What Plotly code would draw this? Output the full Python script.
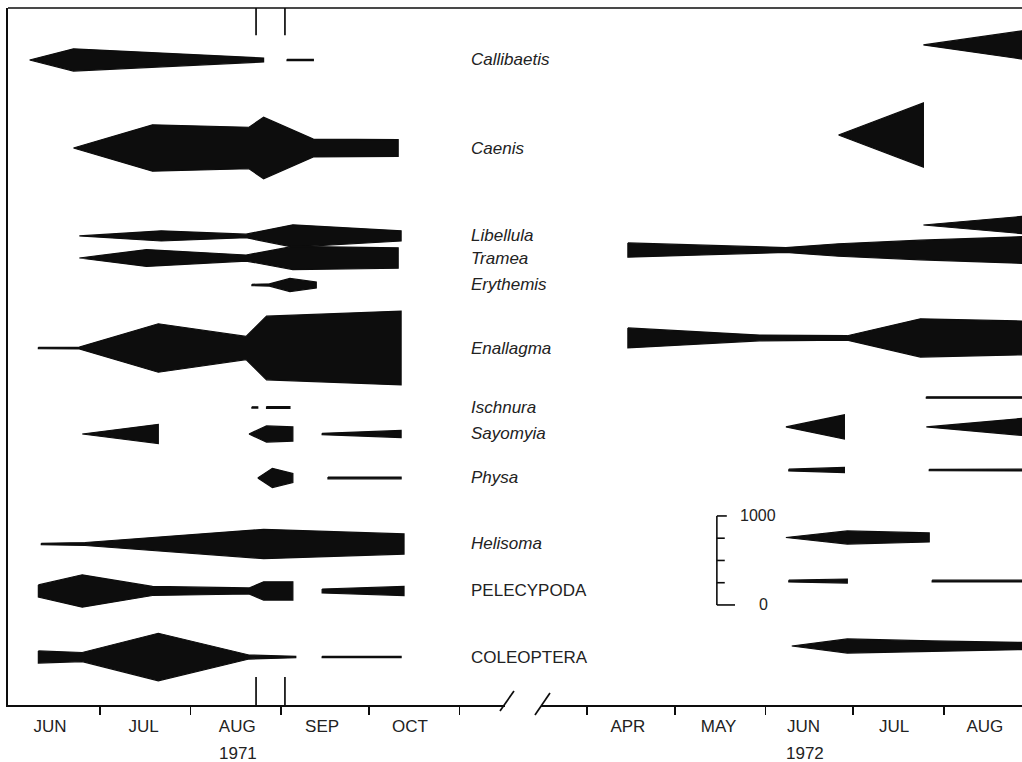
import plotly.graph_objects as go
import pandas as pd

# ---------------- data (kite widths = abundance; None separates segments) ----------------
TAXA = ["Callibaetis", "Caenis", "Libellula", "Tramea", "Erythemis", "Enallagma",
        "Ischnura", "Sayomyia", "Physa", "Helisoma", "PELECYPODA", "COLEOPTERA"]
ITALIC = [True, True, True, True, True, True, True, True, True, True, False, False]

CALLIBAETIS_DATES = ["1971-06-07", "1971-06-22", "1971-08-26", None,
                     "1971-09-03", "1971-09-12", None,
                     "1972-07-25", "1972-08-28"]
CALLIBAETIS_VALUES = [0, 250, 45, None, 15, 15, None, 0, 320]

CAENIS_DATES = ["1971-06-22", "1971-07-19", "1971-08-21", "1971-08-26", "1971-09-12", "1971-10-11", None,
                "1972-06-26", "1972-07-25"]
CAENIS_VALUES = [0, 520, 466, 690, 200, 190, None, 0, 720]

LIBELLULA_DATES = ["1971-06-24", "1971-07-22", "1971-08-20", "1971-09-05", "1971-10-12", None,
                   "1972-07-25", "1972-08-28"]
LIBELLULA_VALUES = [0, 114, 40, 250, 114, None, 0, 195]

TRAMEA_DATES = ["1971-06-24", "1971-07-17", "1971-08-20", "1971-09-05", "1971-10-11", None,
                "1972-04-15", "1972-06-08", "1972-06-26", "1972-07-24", "1972-08-28"]
TRAMEA_VALUES = [0, 190, 68, 260, 230, None, 160, 55, 140, 220, 300]

ERYTHEMIS_DATES = ["1971-08-22", "1971-08-28", "1971-09-04", "1971-09-13"]
ERYTHEMIS_VALUES = [15, 25, 148, 68]

ENALLAGMA_DATES = ["1971-06-10", "1971-06-24", "1971-07-21", "1971-08-20", "1971-08-27", "1971-10-12", None,
                   "1972-04-15", "1972-05-30", "1972-06-29", "1972-07-24", "1972-08-28"]
ENALLAGMA_VALUES = [15, 20, 545, 260, 716, 830, None, 225, 65, 50, 430, 380]

ISCHNURA_DATES = ["1971-08-22", "1971-08-24", None, "1971-08-27", "1971-09-04", None,
                  "1972-07-26", "1972-08-28"]
ISCHNURA_VALUES = [15, 15, None, 20, 20, None, 15, 15]

SAYOMYIA_DATES = ["1971-06-25", "1971-07-21", None,
                  "1971-08-21", "1971-08-27", "1971-09-05", None,
                  "1971-09-15", "1971-10-12", None,
                  "1972-06-08", "1972-06-28", None,
                  "1972-07-26", "1972-08-28"]
SAYOMYIA_VALUES = [0, 216, None, 0, 182, 159, None, 15, 80, None, 0, 273, None, 0, 193]

PHYSA_DATES = ["1971-08-24", "1971-08-29", "1971-09-05", None,
               "1971-09-17", "1971-10-12", None,
               "1972-06-09", "1972-06-28", None,
               "1972-07-27", "1972-08-28"]
PHYSA_VALUES = [0, 216, 102, None, 20, 20, None, 20, 57, None, 15, 20]

HELISOMA_DATES = ["1971-06-11", "1971-06-26", "1971-08-26", "1971-10-13", None,
                  "1972-06-08", "1972-06-29", "1972-07-27"]
HELISOMA_VALUES = [15, 34, 330, 227, None, 0, 148, 102]

PELECYPODA_DATES = ["1971-06-10", "1971-06-25", "1971-07-19", "1971-08-21", "1971-08-26", "1971-09-05", None,
                    "1971-09-15", "1971-10-13", None,
                    "1972-06-09", "1972-06-29", None,
                    "1972-07-28", "1972-08-28"]
PELECYPODA_VALUES = [136, 364, 102, 68, 205, 205, None, 45, 102, None, 20, 45, None, 20, 20]

COLEOPTERA_DATES = ["1971-06-10", "1971-06-25", "1971-07-21", "1971-08-21", "1971-09-06", None,
                    "1971-09-15", "1971-10-12", None,
                    "1972-06-10", "1972-06-29", "1972-07-28", "1972-08-28"]
COLEOPTERA_VALUES = [136, 102, 534, 45, 15, None, 15, 15, None, 0, 159, 114, 80]

SERIES_DATES = [CALLIBAETIS_DATES, CAENIS_DATES, LIBELLULA_DATES, TRAMEA_DATES, ERYTHEMIS_DATES,
                ENALLAGMA_DATES, ISCHNURA_DATES, SAYOMYIA_DATES, PHYSA_DATES, HELISOMA_DATES,
                PELECYPODA_DATES, COLEOPTERA_DATES]
SERIES_VALUES = [CALLIBAETIS_VALUES, CAENIS_VALUES, LIBELLULA_VALUES, TRAMEA_VALUES, ERYTHEMIS_VALUES,
                 ENALLAGMA_VALUES, ISCHNURA_VALUES, SAYOMYIA_VALUES, PHYSA_VALUES, HELISOMA_VALUES,
                 PELECYPODA_VALUES, COLEOPTERA_VALUES]

MONTHS_1971 = ["JUN", "JUL", "AUG", "SEP", "OCT"]
MONTH_LABEL_1971 = ["1971-06-14", "1971-07-16", "1971-08-17", "1971-09-15", "1971-10-15"]
MONTH_START_1971 = ["1971-07-01", "1971-08-01", "1971-09-01", "1971-10-01", "1971-11-01"]
MONTHS_1972 = ["APR", "MAY", "JUN", "JUL", "AUG"]
MONTH_LABEL_1972 = ["1972-04-15", "1972-05-16", "1972-06-14", "1972-07-15", "1972-08-15"]
MONTH_START_1972 = ["1972-04-01", "1972-05-01", "1972-06-01", "1972-07-01", "1972-08-01"]

SCALE_TICKS = [0, 250, 500, 750, 1000]
MARKER_DATES = ["1971-08-23 10:00", "1971-09-02 07:00"]

# ---------------- layout constants ----------------
ROW_BASE_1971 = [7247, 6258, 5270, 5022, 4719, 4011, 3343, 3045, 2551, 1809, 1281, 539]
ROW_BASE_1972 = [7416, 6404, 5393, 5112, 4719, 4124, 3455, 3124, 2640, 1882, 1393, 663]
Y_RANGE = [0, 7831]
X1_RANGE = ["1971-05-30 15:00", "1971-11-16 12:00"]
X2_RANGE = ["1972-03-16 07:00", "1972-08-27 17:00"]
X1_DOMAIN = [0, 0.4901]
X2_DOMAIN = [0.5256, 1]
SCALE_DATE = "1972-05-15 10:00"
SCALE_BASE = 1124
SCALE_TICK_DAYS = [6.2, 2.7, 2.7, 2.7, 3.4]
LABEL_DATE = "1971-11-04 05:00"

INK = "#0d0d0d"
TEXT = "#222222"
FONT = "Liberation Sans, Arial, Helvetica, sans-serif"

fig = go.Figure()

for i, name in enumerate(TAXA):
    segs, cur = [], []
    for d, v in zip(SERIES_DATES[i], SERIES_VALUES[i]):
        if d is None:
            if cur:
                segs.append(cur)
            cur = []
        else:
            cur.append((d, v))
    if cur:
        segs.append(cur)
    for year, axis, bases in (("1971", "x", ROW_BASE_1971), ("1972", "x2", ROW_BASE_1972)):
        xs, ys = [], []
        b = bases[i]
        for seg in segs:
            if not seg[0][0].startswith(year):
                continue
            ds = [d for d, _ in seg]
            vs = [v for _, v in seg]
            xs += ds + ds[::-1] + [ds[0], None]
            ys += [b + v / 2 for v in vs] + [b - v / 2 for v in vs[::-1]] + [b + vs[0] / 2, None]
        if xs:
            fig.add_trace(go.Scatter(
                x=xs, y=ys, xaxis=axis, yaxis="y", mode="lines",
                fill="toself", fillcolor=INK,
                line=dict(color=INK, width=1.2),
                hoverinfo="skip", showlegend=False, name=name))

# scale bar (0 - 1000)
sx, sy = [SCALE_DATE, SCALE_DATE, None], [SCALE_BASE, SCALE_BASE + SCALE_TICKS[-1], None]
d0 = pd.Timestamp(SCALE_DATE)
for t, ln in zip(SCALE_TICKS, SCALE_TICK_DAYS):
    sx += [SCALE_DATE, (d0 + pd.Timedelta(days=ln)).strftime("%Y-%m-%d %H:%M"), None]
    sy += [SCALE_BASE + t, SCALE_BASE + t, None]
fig.add_trace(go.Scatter(x=sx, y=sy, xaxis="x2", yaxis="y", mode="lines",
                         line=dict(color=INK, width=1.6), hoverinfo="skip", showlegend=False))

annotations = []
for i, name in enumerate(TAXA):
    txt = f"<i>{name}</i>" if ITALIC[i] else name
    annotations.append(dict(x=LABEL_DATE, y=ROW_BASE_1971[i], xref="x", yref="y", text=txt,
                            showarrow=False, xanchor="left", yanchor="middle",
                            font=dict(family=FONT, size=17, color=TEXT)))
annotations.append(dict(x=(d0 + pd.Timedelta(days=7.2)).strftime("%Y-%m-%d %H:%M"),
                        y=SCALE_BASE + SCALE_TICKS[-1], xref="x2", yref="y", text=str(SCALE_TICKS[-1]),
                        showarrow=False, xanchor="left", yanchor="middle",
                        font=dict(family=FONT, size=16, color=TEXT)))
annotations.append(dict(x=(d0 + pd.Timedelta(days=15.8)).strftime("%Y-%m-%d %H:%M"),
                        y=SCALE_BASE + SCALE_TICKS[0], xref="x2", yref="y", text=str(SCALE_TICKS[0]),
                        showarrow=False, xanchor="center", yanchor="middle",
                        font=dict(family=FONT, size=16, color=TEXT)))
annotations.append(dict(x="1971-08-17 06:00", y=-0.069, xref="x", yref="paper", text="1971",
                        showarrow=False, xanchor="center", yanchor="middle",
                        font=dict(family=FONT, size=17, color=TEXT)))
annotations.append(dict(x="1972-06-14 12:00", y=-0.069, xref="x2", yref="paper", text="1972",
                        showarrow=False, xanchor="center", yanchor="middle",
                        font=dict(family=FONT, size=17, color=TEXT)))

LW = 1.7
shapes = [dict(type="line", xref="paper", yref="paper", x0=0, x1=1, y0=1, y1=1,
               line=dict(color=INK, width=LW))]
for md in MARKER_DATES:
    shapes.append(dict(type="line", xref="x", yref="paper", x0=md, x1=md, y0=0, y1=0.04,
                       line=dict(color=INK, width=LW)))
    shapes.append(dict(type="line", xref="x", yref="paper", x0=md, x1=md, y0=1, y1=0.961,
                       line=dict(color=INK, width=LW)))
# axis break marks
shapes.append(dict(type="line", xref="paper", yref="paper", x0=0.4852, x1=0.4990, y0=-0.0086, y1=0.0201,
                   line=dict(color=INK, width=LW)))
shapes.append(dict(type="line", xref="paper", yref="paper", x0=0.5197, x1=0.5345, y0=-0.0143, y1=0.0172,
                   line=dict(color=INK, width=LW)))


def xaxis_cfg(domain, rng, labels, label_vals, starts):
    return dict(type="date", domain=domain, range=rng, anchor="y", fixedrange=True,
                showline=True, linecolor=INK, linewidth=LW, showgrid=False, zeroline=False,
                tickmode="array", tickvals=label_vals, ticktext=labels,
                ticks="outside", ticklen=5, tickcolor="rgba(0,0,0,0)",
                tickfont=dict(family=FONT, size=17, color=TEXT),
                minor=dict(tickmode="array", tickvals=starts, ticks="outside", ticklen=8,
                           tickwidth=LW, tickcolor=INK, showgrid=False))


fig.update_layout(
    width=1022, height=762,
    margin=dict(l=8, r=0, t=8, b=57),
    paper_bgcolor="white", plot_bgcolor="white",
    showlegend=False,
    xaxis=xaxis_cfg(X1_DOMAIN, X1_RANGE, MONTHS_1971, MONTH_LABEL_1971, MONTH_START_1971),
    xaxis2=xaxis_cfg(X2_DOMAIN, X2_RANGE, MONTHS_1972, MONTH_LABEL_1972, MONTH_START_1972),
    yaxis=dict(range=Y_RANGE, domain=[0, 1], anchor="x", fixedrange=True,
               showline=True, linecolor=INK, linewidth=LW, showgrid=False, zeroline=False,
               showticklabels=False, ticks=""),
    annotations=annotations,
    shapes=shapes,
)

fig.write_html("out.html",
               config={"displayModeBar": False, "staticPlot": True},
               post_script="document.body.style.margin='0';document.body.style.overflow='hidden';")
